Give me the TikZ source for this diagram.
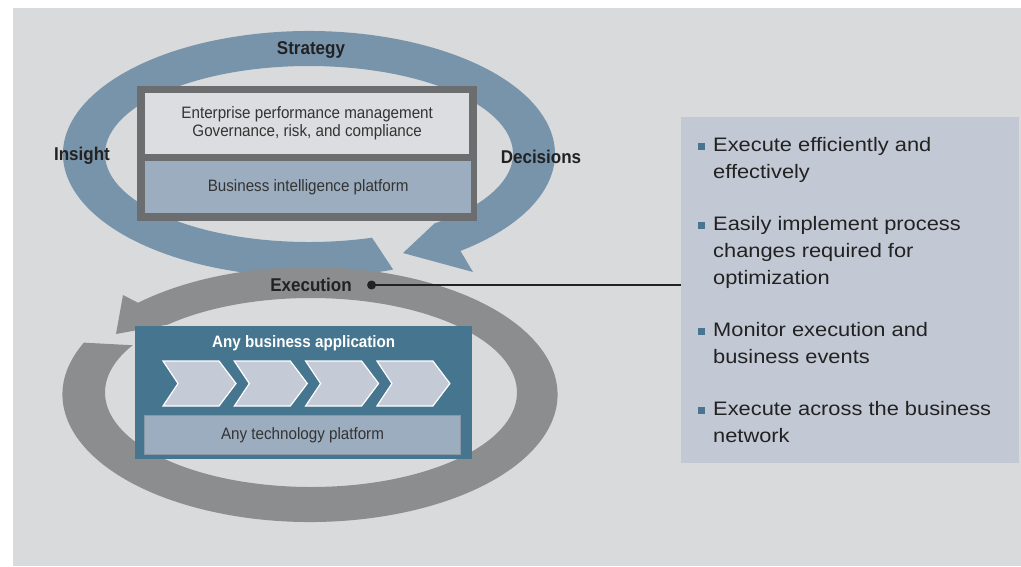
\documentclass[tikz,border=0pt]{standalone}
\usepackage{fontspec}
\setmainfont{Liberation Sans}
\newfontfamily\condfont[FakeStretch=0.92]{Liberation Sans}
\newfontfamily\bodyfont[FakeStretch=1.12]{Liberation Sans}
\usetikzlibrary{positioning,calc}
\definecolor{panelgrey}{HTML}{D9DADC}
\definecolor{loopblue}{HTML}{7894AB}
\definecolor{loopgrey}{HTML}{8C8D8F}
\definecolor{framegrey}{HTML}{6C6D6F}
\definecolor{paleinner}{HTML}{DCDDE0}
\definecolor{layerblue}{HTML}{9CADBF}
\definecolor{appblue}{HTML}{46758F}
\definecolor{chevfill}{HTML}{C4CBD6}
\definecolor{techedge}{HTML}{8A97A5}
\definecolor{pointsbg}{HTML}{C2C8D4}
\definecolor{bulletblue}{HTML}{4A7591}
\definecolor{labeldark}{HTML}{222222}
\definecolor{layerdark}{HTML}{333333}
\newcommand\itembul{\llap{\textcolor{bulletblue}{\rule[1pt]{7.5pt}{7.5pt}}\hspace{8pt}}}

\begin{document}
\begin{tikzpicture}[x=1pt, y=-1pt, every node/.style={align=center, inner sep=0pt},
    looplabel/.style={font=\condfont\bfseries\fontsize{18.5}{20}\selectfont, text=labeldark},
    layertext/.style={font=\condfont\fontsize{16.5}{18}\selectfont, text=layerdark}]
    \useasboundingbox (0,0) rectangle (1021,566);
    \fill[panelgrey] (13,8) rectangle (1021,566);

    % Strategy loop
    \coordinate (bluec) at (309,154);
    \fill[loopblue] ($(bluec)+(70:246 and 123)$) arc[start angle=70, end angle=412, x radius=246, y radius=123]
        -- (473,272) -- (403,253) -- ($(bluec)+(412:204 and 88)$)
        arc[start angle=412, end angle=72, x radius=204, y radius=88] -- cycle;

    % Decision layers
    \node (goalframe) [fill=framegrey, minimum width=340, minimum height=135, anchor=north west] at (137,86) {};
    \node (epm) [layertext, fill=paleinner, minimum width=324, minimum height=61, anchor=north west] at (145,93)
        {Enterprise performance management\\Governance, risk, and compliance};
    \node (bi) [layertext, fill=layerblue, minimum width=326, minimum height=52, anchor=north west] at (145,161)
        {Business intelligence platform};

    % Execution loop
    \coordinate (greyc) at (310,394.5);
    \fill[loopgrey] ($(greyc)+(-156:247.5 and 127.5)$) arc[start angle=-156, end angle=-494, x radius=247.5, y radius=127.5]
        -- (123,295) -- (116,334) -- ($(greyc)+(1,-2)+(-494:206 and 94.5)$)
        arc[start angle=-494, end angle=-150, x radius=206, y radius=94.5] -- cycle;

    % Application layers
    \node (appbox) [fill=appblue, minimum width=337, minimum height=133, anchor=north west] at (135,326) {};
    \node (apptitle) [font=\condfont\bfseries\fontsize{16.5}{18}\selectfont, text=white] at ([yshift=-17pt]appbox.north) {Any business application};
    \foreach \i in {0,...,3}
        \filldraw[fill=chevfill, draw=white, line width=1.2pt, line join=miter]
            ({163+71.3*\i},361) -- ++(56,0) -- ++(17,22.5) -- ++(-17,22.5) -- ++(-56,0) -- ++(15,-22.5) -- cycle;
    \node (techbar) [layertext, fill=layerblue, draw=techedge, line width=1pt, minimum width=316, minimum height=39, anchor=north west] at (144,415)
        {Any technology platform};

    % loop labels
    \node (strategy) [looplabel] at (311,50) {Strategy};
    \node (insight) [looplabel] at (82,156) {Insight};
    \node (decisions) [looplabel] at (541,157) {Decisions};
    \node (exec) [looplabel] at (311,285) {Execution};
    \node (execdot) [circle, fill=labeldark, minimum size=9pt, right=15pt of exec] {};

    % Execution benefits
    \node (points) [fill=pointsbg, minimum width=338, minimum height=346, anchor=north west] at (681,117) {};
    \node (items) [align=left, anchor=north west, font=\bodyfont\fontsize{19.5}{27}\selectfont, text=labeldark] at (713,137) {%
        \itembul Execute efficiently and\\ effectively\\[25pt]
        \itembul Easily implement process\\ changes required for\\ optimization\\[25pt]
        \itembul Monitor execution and\\ business events\\[25pt]
        \itembul Execute across the business\\ network};

    \draw[labeldark, line width=2pt] (execdot) -- (execdot -| points.west);
\end{tikzpicture}
\end{document}
